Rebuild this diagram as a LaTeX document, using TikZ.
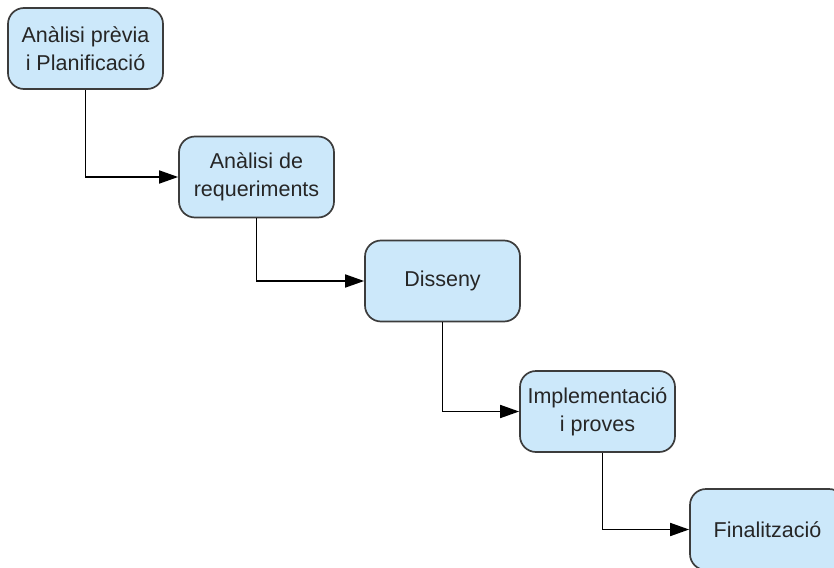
\documentclass[tikz,border=0pt]{standalone}
\usepackage{fontspec}
\setmainfont{Liberation Sans}
\usetikzlibrary{arrows.meta}
\definecolor{boxfill}{RGB}{204,232,250}
\definecolor{boxline}{RGB}{60,60,60}
\begin{document}
\begin{tikzpicture}[x=1pt, y=1pt,
    fase/.style={draw=boxline, line width=1.7pt, fill=boxfill, rounded corners=16pt,
      minimum width=155pt, minimum height=81pt, align=center,
      font=\fontsize{21.5}{28}\selectfont, text=black!85},
    pas/.style={line width=1.7pt, -{Triangle[length=19pt, width=13pt]}}]
      \useasboundingbox (0, 0) rectangle (834, -567);
      \node [fase] (plan) at (85.5, -48.5) {Anàlisi prèvia\\i Planificació};
      \node [fase] (req) at (256.5, -177) {Anàlisi de\\requeriments};
      \node [fase] (disseny) at (442.5, -281) {Disseny};
      \node [fase] (impl) at (597.5, -411.5) {Implementació\\i proves};
      \node [fase] (fin) at (767.5, -529.5) {Finalització};
      \draw [pas] (plan.south) |- (req.west);
      \draw [pas] (req.south) |- (disseny.west);
      \draw [pas] (disseny.south) |- (impl.west);
      \draw [pas] ([xshift=5pt]impl.south) |- (fin.west);
    \end{tikzpicture}
\end{document}
